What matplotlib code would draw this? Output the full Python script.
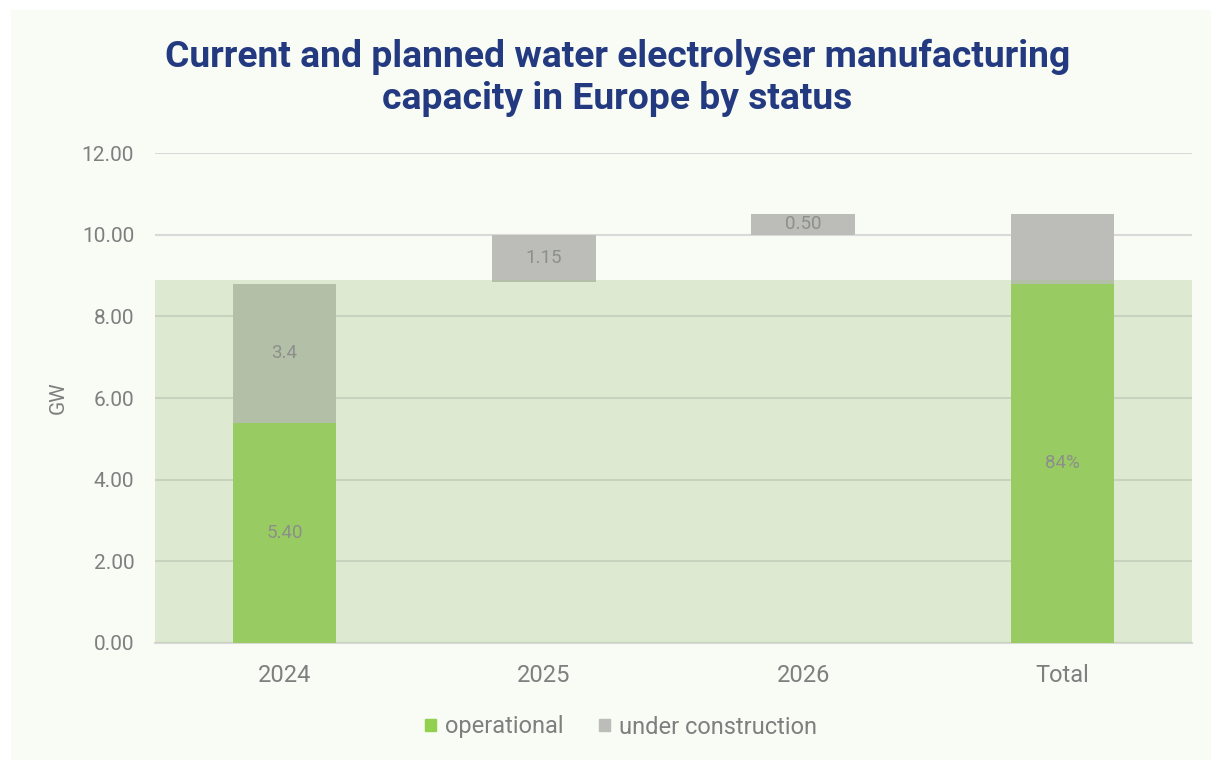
import matplotlib
matplotlib.use("Agg")
import matplotlib.pyplot as plt
from matplotlib.patches import Rectangle, Patch

plt.rcParams['font.family'] = ['Roboto', 'DejaVu Sans']

# Data
categories = ["2024", "2025", "2026", "Total"]
operational = [5.40, 0.0, 0.0, 8.80]
under_construction = [3.40, 1.15, 0.50, 1.70]
floating_base = [0.0, 8.85, 10.00, 0.0]
operational_labels = ["5.40", "", "", "84%"]
construction_labels = ["3.4", "1.15", "0.50", ""]
operational_band_top = 8.9
yticks = [0, 2, 4, 6, 8, 10, 12]

GREEN = "#92d050"
GREY = "#bcbdb8"
BAND = (166/255, 197/255, 137/255)
TEXT = "#7f7f7f"
LABEL = "#8c8f8a"
TITLE = "#233a80"
BG = "#f9fbf5"

fig = plt.figure(figsize=(12.11, 7.60), dpi=100, facecolor="white")
fig.patches.append(Rectangle((11/1211, 0), 1 - 11/1211, 1 - 10/760,
                             transform=fig.transFigure, facecolor=BG,
                             edgecolor="none", zorder=-10))

ax = fig.add_axes([155/1211, 1 - 643/760, (1192 - 155)/1211, (643 - 153)/760])
ax.set_facecolor("none")

x = list(range(len(categories)))
width = 0.4

# stacked bars: operational at the bottom, construction floating above
op_bottom = floating_base
ax.bar(x, operational, width, bottom=op_bottom, color=GREEN, zorder=2)
uc_bottom = [b + o for b, o in zip(floating_base, operational)]
ax.bar(x, under_construction, width, bottom=uc_bottom, color=GREY, zorder=2)

# translucent band marking the operational capacity range
ax.axhspan(0, operational_band_top, color=BAND, alpha=0.32, lw=0, zorder=3)

for i in x:
    if operational_labels[i]:
        ax.text(i, op_bottom[i] + operational[i] / 2, operational_labels[i],
                ha="center", va="center", fontsize=13.5, color=LABEL, zorder=5)
    if construction_labels[i]:
        ax.text(i, uc_bottom[i] + under_construction[i] / 2, construction_labels[i],
                ha="center", va="center", fontsize=13.5, color=LABEL, zorder=5)

ax.set_xlim(-0.5, 3.5)
ax.set_ylim(0, 12)
ax.set_yticks(yticks)
ax.set_yticklabels([f"{v:.2f}" for v in yticks])
ax.set_xticks(x)
ax.set_xticklabels(categories)
ax.tick_params(axis="y", length=0, pad=15, labelsize=15, labelcolor=TEXT)
ax.tick_params(axis="x", length=0, pad=15, labelsize=17, labelcolor=TEXT)
ax.grid(axis="y", color="#d9d9d9", lw=1.5, zorder=0)
ax.set_axisbelow(True)
for s in ["top", "right", "left"]:
    ax.spines[s].set_visible(False)
ax.spines["bottom"].set_color("#d9d9d9")
ax.spines["bottom"].set_linewidth(1.5)
ax.spines["bottom"].set_zorder(1)

ax.set_ylabel("GW", fontsize=15, color=TEXT, labelpad=10)

fig.text(0.51, 1 - 78/760,
         "Current and planned water electrolyser manufacturing\ncapacity in Europe by status",
         ha="center", va="center", fontsize=26.8, fontweight="bold", color=TITLE,
         linespacing=1.23)

handles = [Patch(color=GREEN, label="operational"),
           Patch(color=GREY, label="under construction")]
fig.legend(handles=handles, loc="center", bbox_to_anchor=(0.5128, 1 - 727/760),
           ncol=2, frameon=False, fontsize=17, labelcolor=TEXT,
           handlelength=0.45, handleheight=0.45, handletextpad=0.4,
           columnspacing=1.5)

fig.savefig("out.png", dpi=100, facecolor=fig.get_facecolor())
